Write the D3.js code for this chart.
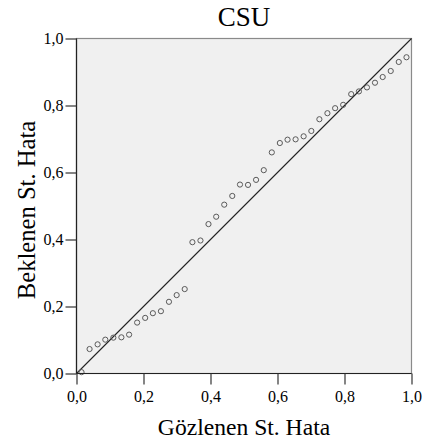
<!DOCTYPE html>
<html>
<head>
<meta charset="utf-8">
<script src="https://cdn.jsdelivr.net/npm/d3@7"></script>
<style>
  html, body { margin: 0; padding: 0; background: #fff; }
  svg { display: block; }
  text { font-family: "Liberation Serif", "Times New Roman", serif; fill: #000; }
</style>
</head>
<body>
<svg id="chart" width="430" height="448"></svg>
<script>
// P-P plot of standardized residuals: observed vs expected cumulative probability
const chartTitle = "CSU";
const xTitle = "Gözlenen St. Hata";
const yTitle = "Beklenen St. Hata";

const observed = [
  0.015, 0.039, 0.063, 0.086, 0.110, 0.134, 0.157, 0.181, 0.205, 0.228,
  0.252, 0.276, 0.299, 0.323, 0.346, 0.370, 0.394, 0.417, 0.441, 0.465,
  0.488, 0.512, 0.536, 0.559, 0.583, 0.607, 0.630, 0.654, 0.678, 0.701,
  0.725, 0.749, 0.772, 0.796, 0.820, 0.843, 0.867, 0.891, 0.914, 0.938,
  0.962, 0.985
];
const expected = [
  0.004, 0.073, 0.087, 0.101, 0.107, 0.108, 0.116, 0.152, 0.166, 0.180,
  0.186, 0.214, 0.234, 0.252, 0.392, 0.397, 0.446, 0.468, 0.504, 0.530,
  0.564, 0.563, 0.578, 0.607, 0.660, 0.688, 0.698, 0.699, 0.708, 0.724,
  0.759, 0.777, 0.792, 0.802, 0.834, 0.842, 0.854, 0.868, 0.885, 0.903,
  0.930, 0.944
];
const tickValues = [0, 0.2, 0.4, 0.6, 0.8, 1.0];
const tickLabels = ["0,0", "0,2", "0,4", "0,6", "0,8", "1,0"];

const plot = { left: 76.5, top: 38.5, right: 411.5, bottom: 373.5 };

const svg = d3.select("#chart");

const x = d3.scaleLinear().domain([0, 1]).range([plot.left, plot.right]);
const y = d3.scaleLinear().domain([0, 1]).range([plot.bottom, plot.top]);

// plot background with light frame on top/right
svg.append("rect")
  .attr("x", plot.left).attr("y", plot.top)
  .attr("width", plot.right - plot.left).attr("height", plot.bottom - plot.top)
  .attr("fill", "#f0f0f0")
  .attr("stroke", "#8a8a8a").attr("stroke-width", 1.2);

// reference diagonal
svg.append("line")
  .attr("x1", x(0)).attr("y1", y(0))
  .attr("x2", x(1)).attr("y2", y(1))
  .attr("stroke", "#222").attr("stroke-width", 1.1);

// points
svg.append("g")
  .selectAll("circle")
  .data(observed.map((v, i) => [v, expected[i]]))
  .join("circle")
  .attr("cx", d => x(d[0]))
  .attr("cy", d => y(d[1]))
  .attr("r", 2.6)
  .attr("fill", "none")
  .attr("stroke", "#5a5a5a")
  .attr("stroke-width", 1);

const fmt = d => tickLabels[tickValues.indexOf(d)];

const xAxis = svg.append("g")
  .attr("transform", `translate(0,${plot.bottom})`)
  .call(d3.axisBottom(x).tickValues(tickValues).tickFormat(fmt).tickSize(11).tickPadding(6));

const yAxis = svg.append("g")
  .attr("transform", `translate(${plot.left},0)`)
  .call(d3.axisLeft(y).tickValues(tickValues).tickFormat(fmt).tickSize(11).tickPadding(2));

[xAxis, yAxis].forEach(g => {
  g.select(".domain").attr("stroke", "#222").attr("stroke-width", 1.2);
  g.selectAll(".tick line").attr("stroke", "#333").attr("stroke-width", 1.2);
  g.selectAll(".tick text")
    .style("font-family", "'Liberation Serif', 'Times New Roman', serif")
    .style("font-size", "16px")
    .attr("fill", "#000");
});
xAxis.select(".domain").attr("d", `M${plot.left},0H${plot.right}`);
yAxis.select(".domain").attr("d", `M0,${plot.bottom}V${plot.top}`);

svg.append("text")
  .attr("x", (plot.left + plot.right) / 2).attr("y", 26)
  .attr("text-anchor", "middle")
  .style("font-size", "27px")
  .text(chartTitle);

svg.append("text")
  .attr("x", (plot.left + plot.right) / 2).attr("y", 435)
  .attr("text-anchor", "middle")
  .style("font-size", "23.6px")
  .text(xTitle);

svg.append("text")
  .attr("transform", `translate(35,210) rotate(-90)`)
  .attr("text-anchor", "middle")
  .style("font-size", "24.6px")
  .text(yTitle);
</script>
</body>
</html>
